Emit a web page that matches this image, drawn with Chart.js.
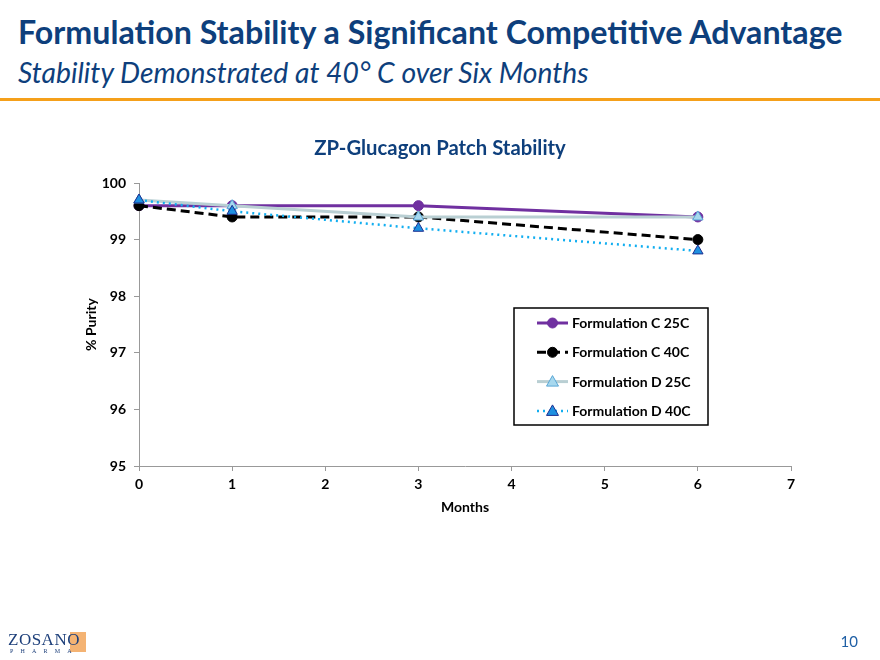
<!DOCTYPE html>
<html>
<head>
<meta charset="utf-8">
<script src="https://cdn.jsdelivr.net/npm/chart.js@4/dist/chart.umd.min.js"></script>
<style>
  html, body { margin: 0; padding: 0; background: #fff; }
  body { width: 880px; height: 660px; position: relative; overflow: hidden; font-family: Lato, "Open Sans", sans-serif; }
  #title { position: absolute; left: 18px; top: 12px; font-size: 32.2px; font-weight: 700; color: #0e3f7c; white-space: nowrap; }
  #subtitle { position: absolute; left: 18px; top: 55px; font-size: 28.3px; font-style: italic; color: #0e3f7c; white-space: nowrap; }
  #rule { position: absolute; left: 0; top: 98px; width: 880px; height: 3px; background: #f5a01a; }
  #ctitle { position: absolute; left: 0; width: 880px; top: 135px; text-align: center; font-size: 20.3px; font-weight: 700; color: #0e3f7c; }
  #wrap { position: absolute; left: 0; top: 0; width: 880px; height: 660px; }
  #logo { position: absolute; left: 8px; top: 630px; font-family: "Liberation Serif", serif; color: #1d3f7a; }
  #logo .z { font-size: 17px; letter-spacing: 0.5px; }
  #logo .p { font-size: 6px; letter-spacing: 7.2px; position: absolute; left: 2px; top: 18px; white-space: nowrap; }
  #logo .sq { position: absolute; left: 62px; top: 2px; width: 16px; height: 20px; background: #f2a65a; opacity: 0.85; }
  #page { position: absolute; right: 22px; top: 632px; font-size: 15px; color: #1f5fa5; }
</style>
</head>
<body>
<div id="title">Formulation Stability a Significant Competitive Advantage</div>
<div id="subtitle">Stability Demonstrated at 40° C over Six Months</div>
<div id="rule"></div>
<div id="wrap"><canvas id="c" width="880" height="660"></canvas></div>
<div id="ctitle">ZP-Glucagon Patch Stability</div>
<div id="logo"><span class="sq"></span><span class="z" style="position:relative">ZOSANO</span><span class="p">PHARMA</span></div>
<div id="page">10</div>
<script>
const months = [0, 1, 3, 6];
const seriesNames = ['Formulation C 25C', 'Formulation C 40C', 'Formulation D 25C', 'Formulation D 40C'];
const formulationC25 = [99.6, 99.6, 99.6, 99.4];
const formulationC40 = [99.6, 99.4, 99.4, 99.0];
const formulationD25 = [99.7, 99.6, 99.4, 99.4];
const formulationD40 = [99.7, 99.5, 99.2, 98.8];
const yTicks = [95, 96, 97, 98, 99, 100];
const xTicks = [0, 1, 2, 3, 4, 5, 6, 7];

const toPts = arr => months.map((m, i) => ({x: m, y: arr[i]}));

const PL = { left: 139, right: 791, top: 183, bottom: 467 };

const legendPlugin = {
  id: 'boxLegend',
  afterDraw(chart) {
    const ctx = chart.ctx;
    const bx = 514, by = 308, bw = 194, bh = 117;
    ctx.save();
    ctx.fillStyle = '#fff';
    ctx.fillRect(bx, by, bw, bh);
    ctx.strokeStyle = '#000';
    ctx.lineWidth = 1.5;
    ctx.strokeRect(bx, by, bw, bh);
    chart.data.datasets.forEach((ds, i) => {
      const y = by + 15 + i * 29.3;
      const x1 = bx + 23, x2 = bx + 54;
      ctx.strokeStyle = ds.borderColor;
      ctx.lineWidth = ds.borderWidth;
      ctx.setLineDash(ds.borderDash || []);
      ctx.beginPath(); ctx.moveTo(x1, y); ctx.lineTo(x2, y); ctx.stroke();
      ctx.setLineDash([]);
      const cx = (x1 + x2) / 2;
      ctx.fillStyle = ds.pointBackgroundColor;
      ctx.strokeStyle = ds.pointBorderColor;
      ctx.lineWidth = 1;
      ctx.beginPath();
      if (ds.pointStyle === 'triangle') {
        const r = 6;
        ctx.moveTo(cx, y - r); ctx.lineTo(cx + r, y + r * 0.75); ctx.lineTo(cx - r, y + r * 0.75); ctx.closePath();
      } else {
        ctx.arc(cx, y, 5, 0, Math.PI * 2);
      }
      ctx.fill(); ctx.stroke();
      ctx.fillStyle = '#000';
      ctx.font = 'bold 14px Lato, sans-serif';
      ctx.textBaseline = 'middle';
      ctx.fillText(ds.label, bx + 58, y + 0.5);
    });
    ctx.restore();
  }
};

const tickFont = { family: 'Lato', size: 14, weight: 'bold' };

new Chart(document.getElementById('c'), {
  type: 'line',
  data: {
    datasets: [
      { label: seriesNames[0], data: toPts(formulationC25), order: 4, borderColor: '#7030a0', borderWidth: 3, clip: false,
        pointStyle: 'circle', pointRadius: 5, pointBackgroundColor: '#7030a0', pointBorderColor: '#7030a0', pointBorderWidth: 1 },
      { label: seriesNames[1], data: toPts(formulationC40), order: 3, borderColor: '#000000', borderWidth: 3, borderDash: [9, 5], clip: false,
        pointStyle: 'circle', pointRadius: 5, pointBackgroundColor: '#000', pointBorderColor: '#000', pointBorderWidth: 1 },
      { label: seriesNames[2], data: toPts(formulationD25), order: 2, borderColor: '#b9cfd3', borderWidth: 3, clip: false,
        pointStyle: 'triangle', pointRadius: 6, pointBackgroundColor: '#a7d8ee', pointBorderColor: '#5aa7d6', pointBorderWidth: 1 },
      { label: seriesNames[3], data: toPts(formulationD40), order: 1, borderColor: '#12aef0', borderWidth: 2.5, borderDash: [2, 4], clip: false,
        pointStyle: 'triangle', pointRadius: 6, pointBackgroundColor: '#1e90e0', pointBorderColor: '#1d2f8f', pointBorderWidth: 1 }
    ]
  },
  options: {
    responsive: false,
    animation: false,
    events: [],
    layout: { padding: { top: PL.top, left: 80, right: 880 - PL.right, bottom: 140 } },
    plugins: { legend: { display: false }, title: { display: false }, tooltip: { enabled: false } },
    elements: { line: { tension: 0 } },
    scales: {
      x: {
        type: 'linear', min: 0, max: 7,
        afterBuildTicks: s => { s.ticks = xTicks.map(v => ({ value: v })); },
        afterFit: s => { s.height = 521 - PL.bottom; },
        grid: { drawOnChartArea: false, drawTicks: true, tickLength: 5, color: '#999' },
        border: { color: '#999', width: 1 },
        ticks: { color: '#000', padding: 5, font: tickFont, maxRotation: 0 },
        title: { display: true, text: 'Months', color: '#000', font: tickFont, padding: { top: 4, bottom: 4 } }
      },
      y: {
        min: 95, max: 100,
        afterBuildTicks: s => { s.ticks = yTicks.map(v => ({ value: v })); },
        afterFit: s => { s.width = PL.left - 80; },
        grid: { drawOnChartArea: false, drawTicks: true, tickLength: 5, color: '#999' },
        border: { color: '#999', width: 1 },
        ticks: { color: '#000', padding: 8, font: tickFont },
        title: { display: true, text: '% Purity', color: '#000', font: tickFont, padding: { top: 3, bottom: 4 } }
      }
    }
  },
  plugins: [legendPlugin]
});
</script>
</body>
</html>
